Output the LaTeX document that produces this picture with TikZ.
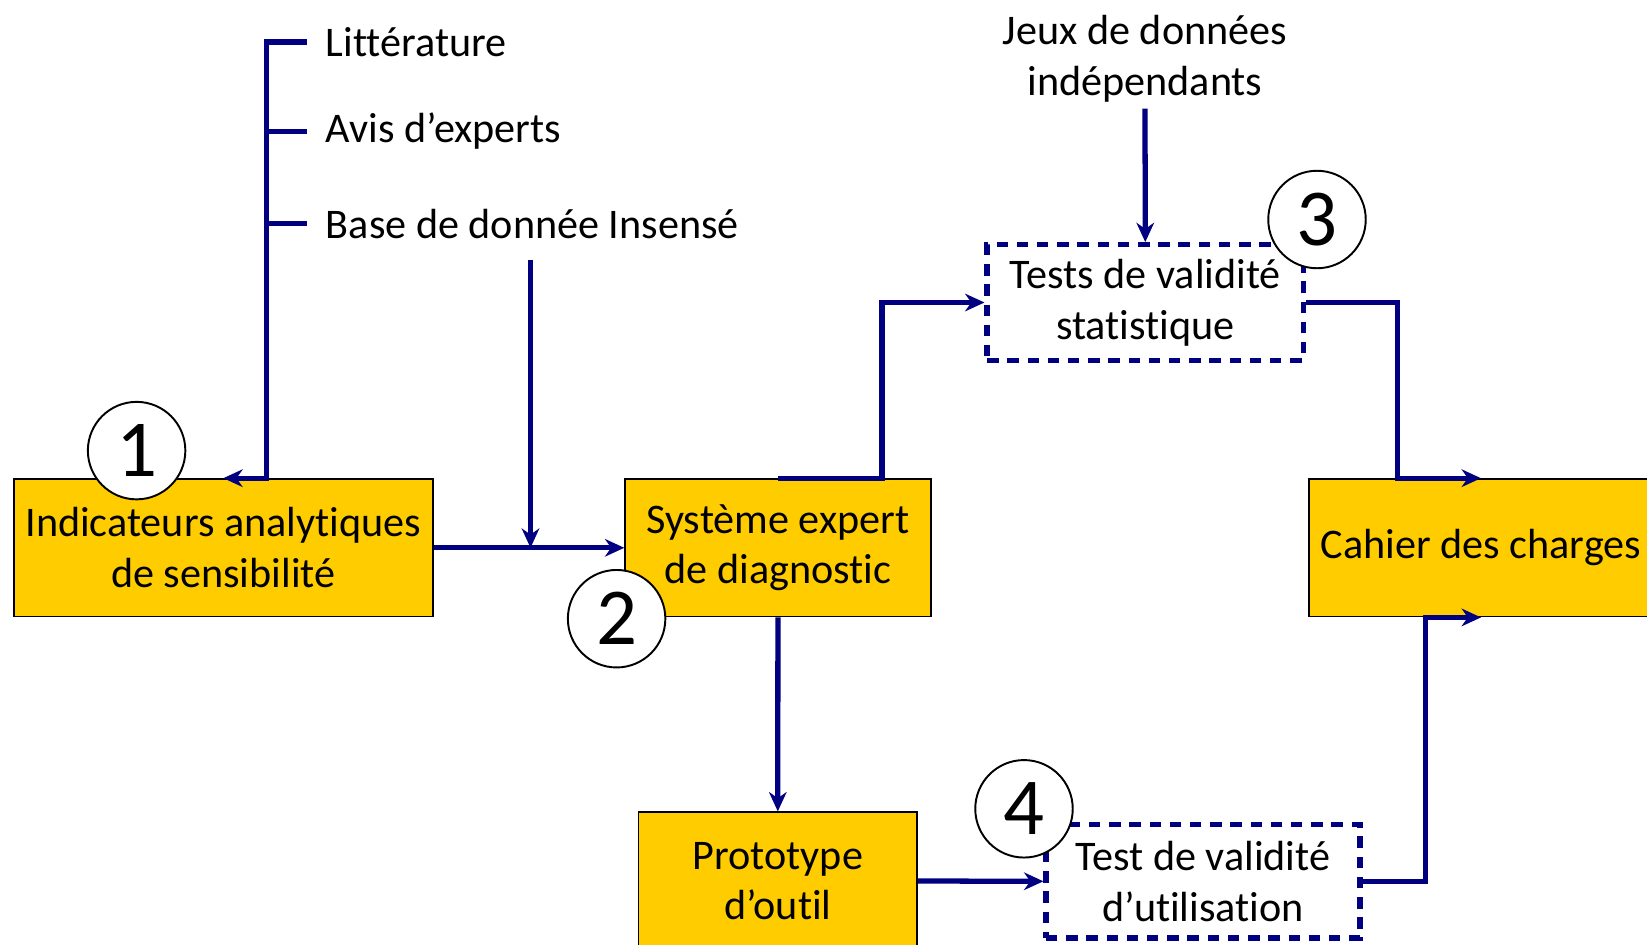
\documentclass[tikz,border=0pt]{standalone}
\usepackage{fontspec}
\setmainfont{Carlito}[RawFeature={-liga}]
\usepackage{tikz}
\usepackage{xcolor}
\usetikzlibrary{arrows.meta,calc}
\definecolor{gold}{HTML}{FFCC00}
\definecolor{navy}{HTML}{000080}
\begin{document}
\begin{tikzpicture}[x=0.02cm,y=-0.02cm,
                    every node/.style={font=\fontsize{24}{28.8}\selectfont},
                    box/.style={draw=black,line width=1pt,fill=gold,align=center,minimum height=2.75cm},
                    dbox/.style={draw=navy,line width=3pt,dash pattern=on 6.5pt off 5pt,fill=white,align=center},
                    num/.style={circle,draw=black,line width=1.1pt,fill=white,minimum size=1.95cm,inner sep=0pt,
                                font=\fontsize{46}{50}\selectfont},
                    lbl/.style={anchor=west,inner sep=0pt},
                    flow/.style={draw=navy,line width=3pt,-{Stealth[length=11pt,width=10pt,inset=3.5pt]}},
                    link/.style={draw=navy,line width=3pt}]
                    \useasboundingbox (0,0) rectangle (1647,944);
                    \node[box,minimum width=8.38cm] (ind) at (223.3,547.8) {Indicateurs analytiques\\de sensibilité};
                    \node[box,minimum width=6.11cm] (sys) at (777.9,547.8) {Système expert\\de diagnostic};
                    \node[box,minimum width=5.57cm] (proto) at (777.8,881) {Prototype\\d’outil};
                    \node[box,minimum width=6.88cm] (cah) at (1481,547.8) {Cahier des charges};
                    \node[dbox,minimum width=6.33cm,minimum height=2.31cm] (tsa) at (1145.3,302.5) {Tests de validité\\statistique};
                    \node[dbox,minimum width=6.28cm,minimum height=2.27cm] (tub) at (1203,881.3) {Test de validité\\d’utilisation};
                    \node[lbl] (lit) at (325.6,42) {Littérature};
                    \node[lbl] (avis) at (325.6,131.3) {Avis d’experts};
                    \node[lbl] (base) at (325.6,223.7) {Base de donnée Insensé};
                    \node[align=center] (jeux) at (1145,59) {Jeux de données\\indépendants};
                    \coordinate (br) at (266.8,42);
                    \coordinate (bd) at (530.5,259.5);
                    \draw[flow] ($(lit.west)+(-19,0)$) -- (br) |- (ind.north);
                    \draw[link] ($(avis.west)+(-19,0)$) -- (br |- avis.west);
                    \draw[link] ($(base.west)+(-19,0)$) -- (br |- base.west);
                    \draw[flow] (ind.east) -- (sys.west);
                    \draw[flow] (bd) -- (bd |- ind.east);
                    \draw[flow] (jeux.south) -- (tsa.north);
                    \draw[flow] (sys.north) -- ++(104,0) |- (tsa.west);
                    \draw[flow] (sys.south) -- (proto.north);
                    \draw[flow] (proto.east) -- (tub.west);
                    \draw[flow] (tsa.east) -- ++(91,0) |- (cah.north);
                    \draw[flow] (tub.east) -- ++(63,0) |- (cah.south);
                    \node[num] (n1) at (136.6,450.6) {1};
                    \node[num] (n2) at (616.6,618.7) {2};
                    \node[num] (n3) at (1317,219.5) {3};
                    \node[num] (n4) at (1024,808.8) {4};
\end{tikzpicture}
\end{document}
